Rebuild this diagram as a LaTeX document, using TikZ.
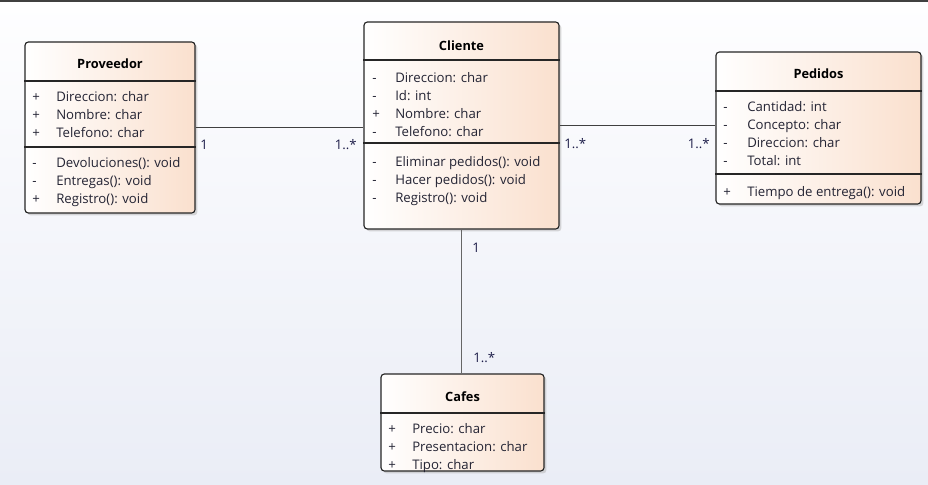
\documentclass[tikz,border=0pt]{standalone}
\usepackage{fontspec}
\setmainfont{Open Sans}
\usetikzlibrary{shadows}
\definecolor{peach}{HTML}{FAE0CE}
\definecolor{txt}{HTML}{242434}
\definecolor{lbl}{HTML}{1C1C48}
\definecolor{bgtop}{HTML}{FEFEFF}
\definecolor{bgbot}{HTML}{EAEDF6}
\begin{document}
\begin{tikzpicture}[x=0.75pt,y=-0.75pt,
  cls/.style={draw=black!85, line width=0.85pt, rounded corners=2.5pt,
    left color=white, right color=peach, inner sep=0pt,
    drop shadow={shadow xshift=1.8pt, shadow yshift=-1.8pt, fill=black!30, opacity=0.5}},
  sepline/.style={draw=black!85, line width=0.85pt},
  ttl/.style={font=\fontsize{9.6}{11}\selectfont\bfseries, text=black, inner sep=0pt, text height=9.5pt, text depth=2pt},
  mk/.style={font=\fontsize{9.9}{11}\selectfont, text=txt, anchor=west, inner sep=0pt, text height=10pt, text depth=2pt},
  itm/.style={font=\fontsize{9.9}{11}\selectfont, text=txt, anchor=west, inner sep=0pt, text height=10pt, text depth=2pt},
  mult/.style={font=\fontsize{9.9}{11}\selectfont, text=lbl, inner sep=0pt, text height=10pt, text depth=2pt},
  assoc/.style={draw=black!75, line width=1pt}]
% background
\shade[top color=bgtop, bottom color=bgbot] (0,0) rectangle (928,485);
\useasboundingbox (0,0) rectangle (928,485);
\fill[black!75] (0,0) rectangle (928,2);

% class boxes
\node[cls, minimum width={170*0.75pt}, minimum height={171*0.75pt}] (Proveedor) at (110,127.5) {};
\node[cls, minimum width={195*0.75pt}, minimum height={207*0.75pt}] (Cliente) at (461.5,125.5) {};
\node[cls, minimum width={205*0.75pt}, minimum height={152*0.75pt}] (Pedidos) at (818.5,128) {};
\node[cls, minimum width={163*0.75pt}, minimum height={97*0.75pt}] (Cafes) at (462.5,422.5) {};

% connectors
\draw[assoc] (Proveedor.east) -- (Proveedor.east -| Cliente.west);
\draw[assoc] (Cliente.east) -- (Cliente.east -| Pedidos.west);
\draw[assoc, draw=black!60] (Cliente.south) -- (Cliente.south |- Cafes.north);

% multiplicities
\node[mult, anchor=west] (m1) at (200,144) {1};
\node[mult, anchor=east] (m2) at (357,144) {1..*};
\node[mult, anchor=west] (m3) at (564,143) {1..*};
\node[mult, anchor=east] (m4) at (710,143) {1..*};
\node[mult, anchor=west] (m5) at (472,247) {1};
\node[mult, anchor=west] (m6) at (473,357) {1..*};

% Proveedor
\node[ttl] (pt) at (110,64) {Proveedor};
\draw[sepline] (Proveedor.west |- 0,81) -- (Proveedor.east |- 0,81);
\draw[sepline] (Proveedor.west |- 0,147) -- (Proveedor.east |- 0,147);
\node[mk] (pm1) at (32,96) {+};  \node[itm] (pa1) at (56,96) {Direccion: char};
\node[mk] (pm2) at (32,114) {+}; \node[itm] (pa2) at (56,114) {Nombre: char};
\node[mk] (pm3) at (32,132) {+}; \node[itm] (pa3) at (56,132) {Telefono: char};
\node[mk] (pm4) at (32,162) {-}; \node[itm] (po1) at (56,162) {Devoluciones(): void};
\node[mk] (pm5) at (32,180) {-}; \node[itm] (po2) at (56,180) {Entregas(): void};
\node[mk] (pm6) at (32,198) {+}; \node[itm] (po3) at (56,198) {Registro(): void};

% Cliente
\node[ttl] (ct) at (461.5,46) {Cliente};
\draw[sepline] (Cliente.west |- 0,60) -- (Cliente.east |- 0,60);
\draw[sepline] (Cliente.west |- 0,143) -- (Cliente.east |- 0,143);
\node[mk] (cm1) at (372,77) {-};  \node[itm] (ca1) at (395,77) {Direccion: char};
\node[mk] (cm2) at (372,95) {-};  \node[itm] (ca2) at (395,95) {Id: int};
\node[mk] (cm3) at (372,113) {+}; \node[itm] (ca3) at (395,113) {Nombre: char};
\node[mk] (cm4) at (372,131) {-}; \node[itm] (ca4) at (395,131) {Telefono: char};
\node[mk] (cm5) at (372,161) {-}; \node[itm] (co1) at (395,161) {Eliminar pedidos(): void};
\node[mk] (cm6) at (372,179) {-}; \node[itm] (co2) at (395,179) {Hacer pedidos(): void};
\node[mk] (cm7) at (372,197) {-}; \node[itm] (co3) at (395,197) {Registro(): void};

% Pedidos
\node[ttl] (dt) at (818.5,74) {Pedidos};
\draw[sepline] (Pedidos.west |- 0,91) -- (Pedidos.east |- 0,91);
\draw[sepline] (Pedidos.west |- 0,174) -- (Pedidos.east |- 0,174);
\node[mk] (dm1) at (723,106) {-};  \node[itm] (da1) at (747,106) {Cantidad: int};
\node[mk] (dm2) at (723,124) {-};  \node[itm] (da2) at (747,124) {Concepto: char};
\node[mk] (dm3) at (723,142) {-};  \node[itm] (da3) at (747,142) {Direccion: char};
\node[mk] (dm4) at (723,160) {-};  \node[itm] (da4) at (747,160) {Total: int};
\node[mk] (dm5) at (723,191) {+};  \node[itm] (do1) at (747,191) {Tiempo de entrega(): void};

% Cafes
\node[ttl] (ft) at (462.5,396) {Cafes};
\draw[sepline] (Cafes.west |- 0,413) -- (Cafes.east |- 0,413);
\node[mk] (fm1) at (388,428) {+}; \node[itm] (fa1) at (412,428) {Precio: char};
\node[mk] (fm2) at (388,446) {+}; \node[itm] (fa2) at (412,446) {Presentacion: char};
\node[mk] (fm3) at (388,464) {+}; \node[itm] (fa3) at (412,464) {Tipo: char};
\end{tikzpicture}
\end{document}
